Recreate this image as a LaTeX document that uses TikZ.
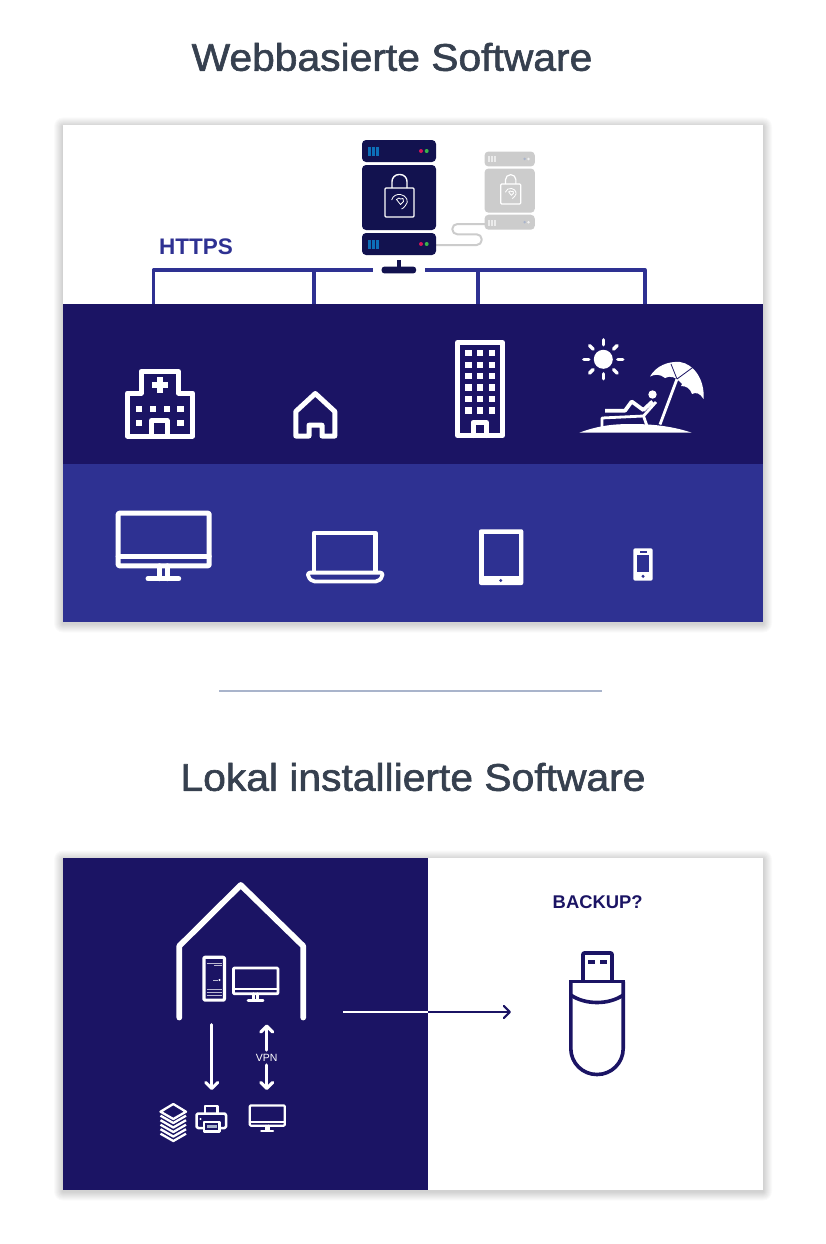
\documentclass[tikz,border=0pt]{standalone}
\usepackage{fontspec}
\setmainfont{Liberation Sans}
\newfontfamily\medfont[FakeBold=1.6,FakeStretch=1.06]{Liberation Sans}
\usetikzlibrary{arrows.meta}
\definecolor{navy}{HTML}{1B1464}
\definecolor{royal}{HTML}{2E3192}
\definecolor{ink}{HTML}{36404F}
\definecolor{rulegrey}{HTML}{A9B4CB}
\definecolor{cablegrey}{HTML}{CCCCCC}
\definecolor{srvbody}{HTML}{12124F}
\definecolor{srvbar}{HTML}{0D6FB8}
\definecolor{srvred}{HTML}{D4145A}
\definecolor{srvgreen}{HTML}{39B54A}
\tikzset{
  title/.style={font=\medfont\fontsize{38.5}{38.5}\selectfont,text=ink,inner sep=0pt},
  icon/.style={draw=white,line width=5pt,line join=round,line cap=round},
  tip/.style={-{Straight Barb[length=6pt,width=12pt,round]}},
  serverpic/.pic={
    \foreach \top/\bot in {0/22,25/90,93/115}
      \fill[srvbody,rounded corners=4pt] (0,\top) rectangle (74,\bot);
    \foreach \top in {0,93} {
      \foreach \bx in {5.5,9.8,14.1}
        \fill[srvbar] (\bx,\top+7) rectangle ++(3,9);
      \fill[srvred] (59,\top+11) circle (2pt);
      \fill[srvgreen] (64.7,\top+11) circle (2pt);
    }
  },
  lockpic/.pic={
    \draw[white,rounded corners=1pt] (-14.5,-14.5) rectangle (14.5,14.5);
    \draw[white,rounded corners=#1] (-7.5,-14.5) -- (-7.5,-28) -- (7.5,-28) -- (7.5,-14.5);
    \draw[white,line width=.8pt] (-7.8,-2.5) .. controls (-7,-7) and (-2,-8.5) .. (1,-8)
      .. controls (7,-7) and (10,-1) .. (6,3) .. controls (5,5) and (3,6) .. (2,6.5);
    \draw[white,line width=.8pt] (-3,-3) -- (-.5,-4.5) -- (1,-3.5) -- (3.5,-4) -- (4,-1) -- (1,2) -- cycle;
  },
  monitorpic/.pic={
    \draw[rounded corners=1pt] (0,0) rectangle (91,52.6);
    \draw (0,42.8) -- (91,42.8);
    \draw (41.3,52.6) -- (41.3,65.5) (48.8,52.6) -- (48.8,65.5);
    \draw (29.8,65.5) -- (60.5,65.5);
  }
}
\begin{document}
\begin{tikzpicture}[x=1pt,y=-1pt,thick,line join=round]
  \useasboundingbox (0,0) rectangle (826,1244);
  \fill[white] (0,0) rectangle (826,1244);
  % titles
  \node[title] (T1) at (392,57) {Webbasierte Software};
  \node[title] (T2) at (413,777) {Lokal installierte Software};
  \draw[rulegrey,line width=2pt] (219,691) -- (602,691);
  % panel shadows
  \foreach \g in {1,...,9} {
    \fill[black,opacity=.018,rounded corners=\g pt] (63-\g,125-\g+1.5) rectangle (763+\g,622+\g+1.5);
    \fill[black,opacity=.018,rounded corners=\g pt] (63-\g,858-\g+1.5) rectangle (763+\g,1190+\g+1.5);
  }
  \fill[white] (63,125) rectangle (763,304);
  \fill[navy] (63,304) rectangle (763,464);
  \fill[royal] (63,464) rectangle (763,622);
  \fill[white] (63,858) rectangle (763,1190);
  \fill[navy] (63,858) rectangle (428,1190);
  % servers
  \draw[cablegrey,line width=2pt,rounded corners=5pt] (436,245) -- (481.7,245) -- (481.7,234.3)
    -- (452.3,234.3) -- (452.3,224) -- (485,224);
  \pic at (362,140) {serverpic};
  \pic[line width=1.4pt] at (399.5,202.5) {lockpic=7pt};
  \begin{scope}
    \colorlet{srvbody}{cablegrey}
    \colorlet{srvbar}{white!60!cablegrey}
    \colorlet{srvred}{rulegrey}
    \colorlet{srvgreen}{white!70!cablegrey}
    \pic[scale=.68] at (484.5,151.5) {serverpic};
    \pic[scale=.69,line width=1.2pt] at (510.7,194) {lockpic=5pt};
  \end{scope}
  % https bus
  \node[text=royal,font=\bfseries\fontsize{22.5}{22.5}\selectfont,inner sep=0pt] (H1) at (196,246.5) {HTTPS};
  \fill[srvbody,rounded corners=2.5pt] (381.7,266.7) rectangle (416,273.3);
  \draw[srvbody,line width=3.5pt] (399,260) -- (399,268);
  \node[inner sep=0pt,minimum width=34pt,minimum height=7pt] (P1) at (399,270) {};
  \coordinate (D1) at (153.5,304);
  \coordinate (D2) at (314,304);
  \coordinate (D3) at (478,304);
  \coordinate (D4) at (645,304);
  \draw[royal,line width=3.3pt] (D1) |- ([xshift=-9pt]P1.west);
  \draw[royal,line width=3.3pt] (D4) |- ([xshift=9pt]P1.east);
  \draw[royal,line width=3.3pt] (D2) -- (D2 |- P1);
  \draw[royal,line width=3.3pt] (D3) -- (D3 |- P1);
  % hospital
  \draw[icon] (127.5,436) -- (127.5,393) -- (141,393) -- (141,371.5) -- (178.5,371.5)
    -- (178.5,393) -- (192.5,393) -- (192.5,436) -- cycle;
  \fill[white] (157,377) rectangle (163,393);
  \fill[white] (152,382) rectangle (168,388);
  \foreach \wx/\wy in {139/408.7,152.7/408.7,166.7/408.7,180.3/408.7,139/422.7,180.3/422.7}
    \fill[white] (\wx-3.2,\wy-3.2) rectangle (\wx+3.2,\wy+3.2);
  \draw[icon] (151.5,436) -- (151.5,420.5) -- (167,420.5) -- (167,436);
  % house
  \draw[icon] (295.8,436) -- (295.8,411.5) -- (315.3,393.5) -- (334.8,411.5) -- (334.8,436)
    -- (322,436) -- (322,425.2) -- (309,425.2) -- (309,436) -- cycle;
  % hotel
  \draw[icon] (457.5,342.5) rectangle (502.5,435.5);
  \foreach \wx in {468.3,480,492}
    \foreach \wy in {353,364.7,376,387.3,399,410.3}
      \fill[white] (\wx-3.2,\wy-3.2) rectangle (\wx+3.2,\wy+3.2);
  \draw[icon] (473,435.5) -- (473,422.5) -- (486.5,422.5) -- (486.5,435.5);
  % beach
  \fill[white] (603.3,359.3) circle (9.5pt);
  \foreach \ra in {0,45,...,315}
    \draw[white,line width=3.4pt,line cap=round] (603.3,359.3) ++(\ra:14.5pt) -- ++(\ra:5pt);
  \fill[white] (579.3,432.7) .. controls (600,425) and (615,424) .. (633,424)
    .. controls (655,424) and (675,427) .. (691.7,432.7) -- cycle;
  \fill[white] (650,376.5) .. controls (656,366) and (668,361) .. (680,362)
    .. controls (694,364) and (705,380) .. (703.5,399) .. controls (700,393) and (696,392) .. (692,394)
    .. controls (690,388) and (686,386) .. (681,386) -- (682,384)
    .. controls (676,377) and (670,375) .. (665,378) .. controls (660,374) and (655,374) .. (650,376.5) -- cycle;
  \draw[white,line width=2.8pt] (660,424.5) -- (677,379);
  \draw[navy,line width=.8pt] (677,379) -- (671,364) (677,379) -- (692,368);
  \fill[white] (652.5,394.5) circle (4.2pt);
  \draw[white,line width=3.8pt] (605,410.7) -- (625,410.7) -- (631.7,401.5) -- (643.3,410) -- (652.5,401.5);
  \draw[white,line width=2.8pt] (602,427) -- (602,418) -- (643.5,416) -- (656,402);
  \draw[white,line width=2.8pt] (643.5,416) -- (647,426);
  % devices
  \pic[icon] at (118.2,513.2) {monitorpic};
  \draw[icon,line width=4.5pt] (314,571) -- (314,533) -- (375.5,533) -- (375.5,571);
  \draw[icon,line width=3.8pt,rounded corners=2pt] (308,572.6) -- (382.4,572.6) -- (382.4,577) -- (378,581.4) -- (312.5,581.4) -- (308,577) -- cycle;
  \fill[white,rounded corners=2pt] (479,529.3) rectangle (523.3,585);
  \fill[royal] (484,534.3) rectangle (518.7,576.3);
  \fill[royal] (500.7,580.5) circle (1.7pt);
  \fill[white,rounded corners=2pt] (633.3,548.3) rectangle (652.7,580.7);
  \fill[royal] (636.7,555) rectangle (649,572.3);
  \fill[royal] (640,551) rectangle (646.7,552.5);
  \fill[royal] (643,576.3) circle (1.7pt);
  % lokal house
  \draw[icon,line width=5.8pt] (179.3,1017.5) -- (179.3,946) -- (240.7,885) -- (303.2,946) -- (303.2,1017.5);
  \draw[icon,line width=3.2pt,rounded corners=1pt] (203.9,957.3) rectangle (224.4,1000.1);
  \foreach \ly in {989.3,992.3,995}
    \draw[white!70!navy,line width=.8pt] (206.7,\ly) -- (222,\ly);
  \draw[white!70!navy,line width=.8pt] (206.7,963.7) -- (222,963.7) (214,965.7) -- (222,965.7) (213,980) -- (218,980);
  \fill[white] (219.5,980) circle (1.2pt);
  \pic[icon,line width=2.8pt,scale=.49] at (233.4,968) {monitorpic};
  % arrows
  \node[text=white,font=\fontsize{10.5}{10.5}\selectfont,inner sep=0pt] (V1) at (266.7,1057.5) {VPN};
  \coordinate (A1) at (266.7,1024.5);
  \coordinate (A2) at (266.7,1090);
  \coordinate (A3) at (211.7,1024.5);
  \coordinate (A4) at (211.7,1090);
  \draw[white,line width=3.2pt,line cap=round,tip] ([yshift=3.5pt]V1.north) -- (A1);
  \draw[white,line width=3.2pt,line cap=round,tip] ([yshift=-3.5pt]V1.south) -- (A2);
  \draw[white,line width=3pt,line cap=round,tip] (A3) -- (A4);
  % bottom icons
  \foreach \sy in {22,17.5,13,8.5,4}
    \draw[white,line width=2.3pt] (160.5,1111.7+\sy) -- (173.3,1119+\sy) -- (186,1111.7+\sy);
  \draw[white,fill=navy,line width=2.3pt] (173.3,1104) -- (186,1111.7) -- (173.3,1119) -- (160.5,1111.7) -- cycle;
  \draw[white,line width=2.5pt] (205,1113) -- (205,1106) -- (217.5,1106) -- (217.5,1113);
  \draw[white,line width=2.5pt,rounded corners=1.5pt] (204,1128) -- (196.5,1128) -- (196.5,1113.5) -- (226,1113.5) -- (226,1128) -- (219,1128);
  \draw[white,line width=2.5pt] (204,1122) rectangle (219.5,1131.5);
  \fill[rulegrey] (206.5,1124.5) rectangle (217,1127.5);
  \fill[white] (200.5,1119) circle (1.2pt);
  \pic[icon,line width=2.2pt,scale=.385] at (249.8,1105.4) {monitorpic};
  % usb stick
  \coordinate (U1) at (343,1012);
  \coordinate (U2) at (428,1012);
  \coordinate (U3) at (511,1012);
  \draw[white,line width=2.2pt] (U1) -- (U2);
  \draw[navy,line width=2.2pt,tip] (U2) -- (U3);
  \node[text=navy,font=\bfseries\fontsize{18.4}{18.4}\selectfont,inner sep=0pt] (B1) at (597.7,902.5) {BACKUP?};
  \draw[navy,line width=3.6pt,rounded corners=1pt] (583,981.5) -- (583,953) -- (612,953) -- (612,981.5);
  \fill[navy] (588.3,960) rectangle (595,964);
  \fill[navy] (600,960) rectangle (606.7,964);
  \draw[navy,line width=3.6pt,rounded corners=26pt] (570.8,981.5) -- (570.8,1074.5) -- (623.2,1074.5) -- (623.2,981.5);
  \draw[navy,line width=3.6pt] (569.2,981.5) -- (624.8,981.5);
  \draw[navy,line width=3.6pt] (570.8,995) .. controls (585,1005) and (609,1005) .. (623.2,995);
\end{tikzpicture}
\end{document}
